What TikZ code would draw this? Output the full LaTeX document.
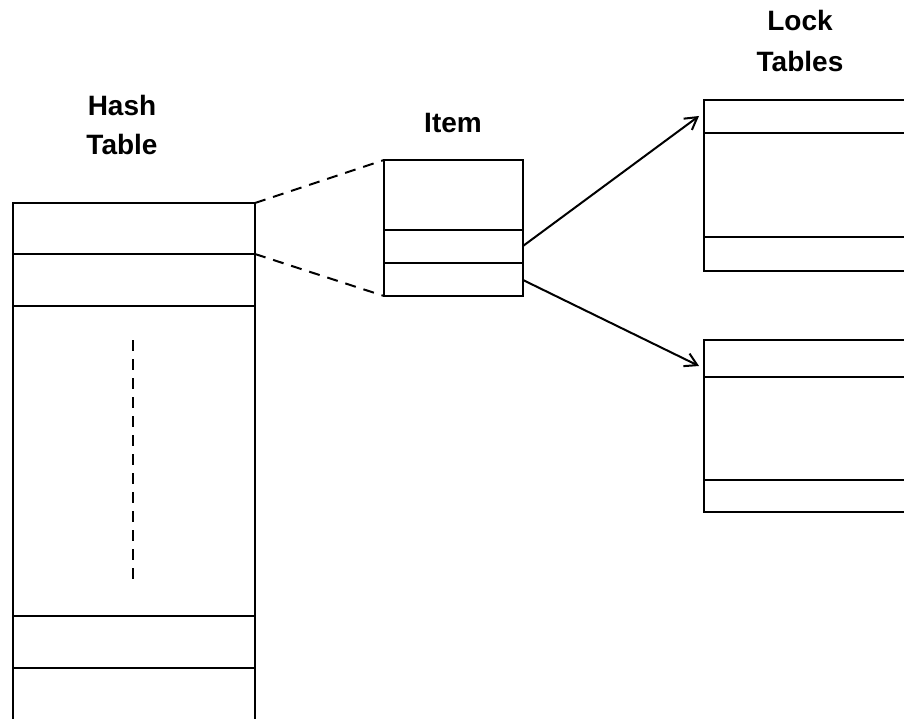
\documentclass[tikz,border=0pt]{standalone}
\usepackage{fontspec}
\setmainfont{Liberation Sans}
\usetikzlibrary{arrows.meta}
\begin{document}
\begin{tikzpicture}[x=1pt,y=-1pt,
  box/.style={line width=2pt, line cap=rect},
  rule/.style={line width=2pt},
  link/.style={line width=2pt, dash pattern=on 11pt off 8pt},
  ptr/.style={line width=2pt, -{Straight Barb[length=12pt,width=14pt,line width=2pt]}},
  lbl/.style={font=\fontsize{28}{41}\selectfont\bfseries, anchor=base, inner sep=0pt}]
\useasboundingbox (0,0) rectangle (904,719);

% labels
\node[lbl] (hashA) at (122,116) {Hash};
\node[lbl] (hashB) at (122,155) {Table};
\node[lbl] (itemL) at (453,133) {Item};
\node[lbl] (lockA) at (800,31) {Lock};
\node[lbl] (lockB) at (800,72) {Tables};

% hash table
\coordinate (h0) at (255,203);
\coordinate (h1) at (255,254);
\draw[box] (13,722) -- (13,203) -- (h0) -- (255,722);
\draw[rule] (13,254) -- (h1);
\draw[rule] (13,306) -- (255,306);
\draw[rule] (13,616) -- (255,616);
\draw[rule] (13,668) -- (255,668);
\coordinate (d0) at (133,340);
\coordinate (d1) at (133,584);
\draw[link] (d0) -- (d1);

% item
\coordinate (i0) at (384,160);
\coordinate (i3) at (384,296);
\coordinate (iA) at (523,246);
\coordinate (iB) at (523,280);
\draw[box] (384,160) rectangle (523,296);
\draw[rule] (384,230) -- (523,230);
\draw[rule] (384,263) -- (523,263);

% lock tables
\draw[box] (908,100) -- (704,100) -- (704,271) -- (908,271);
\draw[rule] (704,133) -- (908,133);
\draw[rule] (704,237) -- (908,237);
\coordinate (l1) at (699,116);
\draw[box] (908,340) -- (704,340) -- (704,512) -- (908,512);
\draw[rule] (704,377) -- (908,377);
\draw[rule] (704,480) -- (908,480);
\coordinate (l2) at (699,366);

% connectors
\draw[link] (h0) -- (i0);
\draw[link] (h1) -- (i3);
\draw[ptr] (iA) -- (l1);
\draw[ptr] (iB) -- (l2);
\end{tikzpicture}
\end{document}
